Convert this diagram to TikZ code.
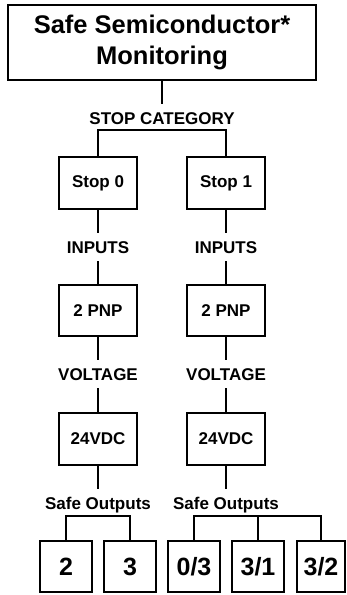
\documentclass[tikz,border=0pt]{standalone}
\usepackage{fontspec}
\setmainfont{Liberation Sans}
\begin{document}
\begin{tikzpicture}[x=1pt,y=-1pt,
  every path/.style={line width=1.9pt},
  boxnode/.style={draw,line width=1.9pt,inner sep=0pt,minimum width=78pt,minimum height=52pt,font=\bfseries\fontsize{17}{20}\selectfont},
  outbox/.style={draw,line width=1.9pt,inner sep=0pt,minimum width=52pt,minimum height=51pt,font=\bfseries\fontsize{25}{30}\selectfont},
  lbl/.style={inner xsep=2pt,inner ysep=7pt,text height=12.2pt,text depth=0pt,font=\bfseries\fontsize{17}{20}\selectfont}]
\useasboundingbox (0,0) rectangle (346,595);
\node[draw,line width=1.9pt,minimum width=308pt,minimum height=75pt,inner sep=0pt,align=center,font=\bfseries\fontsize{25.5}{31}\selectfont] (top) at (162,42.5) {Safe Semiconductor*\\Monitoring};
\node[lbl] (cat) at (162,118) {STOP CATEGORY};
\coordinate (catb) at (162,130);
\node[boxnode] (s0) at (98,183) {Stop 0};
\node[boxnode] (s1) at (226,183) {Stop 1};
\node[lbl] (in0) at (98,247) {INPUTS};
\node[lbl] (in1) at (226,247) {INPUTS};
\node[boxnode,minimum height=51pt] (p0) at (98,310.5) {2 PNP};
\node[boxnode,minimum height=51pt] (p1) at (226,310.5) {2 PNP};
\node[lbl] (v0) at (98,374) {VOLTAGE};
\node[lbl] (v1) at (226,374) {VOLTAGE};
\node[boxnode] (d0) at (98,439) {24VDC};
\node[boxnode] (d1) at (226,439) {24VDC};
\node[lbl] (so0) at (98,503) {Safe Outputs};
\node[lbl] (so1) at (226,503) {Safe Outputs};
\coordinate (lb) at (98,516);
\coordinate (rb) at (258,516);
\node[outbox] (o2) at (66,566.5) {2};
\node[outbox] (o3) at (130,566.5) {3};
\node[outbox] (o03) at (194,566.5) {0/3};
\node[outbox] (o31) at (258,566.5) {3/1};
\node[outbox,minimum width=48pt] (o32) at (321,566.5) {3/2};
\draw (top) -- (cat);
\draw (s0.north) |- (catb) -| (s1.north);
\draw (s0) -- (in0) (in0) -- (p0) (p0) -- (v0) (v0) -- (d0) (d0) -- (so0);
\draw (s1) -- (in1) (in1) -- (p1) (p1) -- (v1) (v1) -- (d1) (d1) -- (so1);
\draw (o2.north) |- (lb) -| (o3.north);
\draw (o03.north) |- (rb) -| (o32.north);
\draw (o31.north) -- (rb);
\end{tikzpicture}
\end{document}
